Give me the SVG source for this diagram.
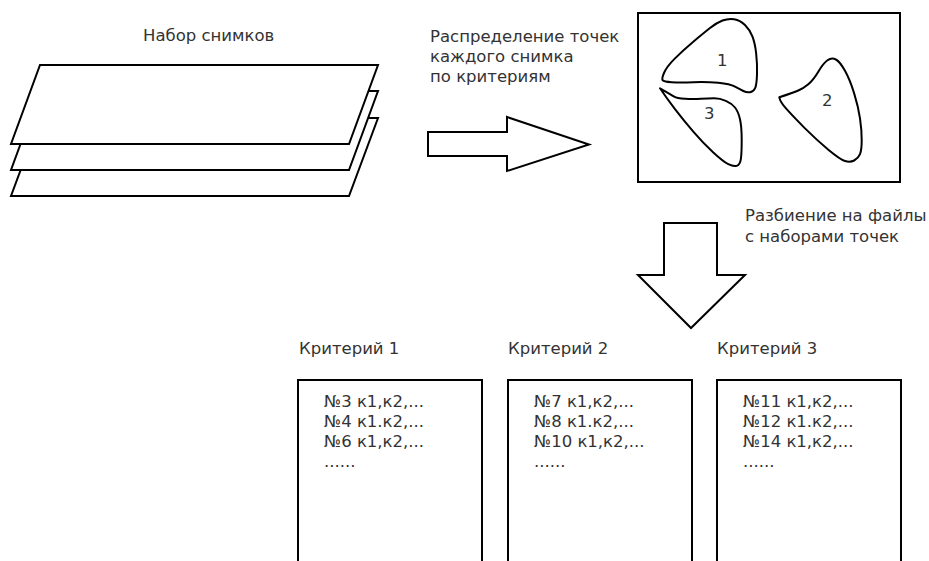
<svg xmlns="http://www.w3.org/2000/svg" width="929" height="561" viewBox="0 0 929 561">
  <style>
    .bg { fill: #ffffff; }
    .sheet { fill: #ffffff; stroke: #000000; stroke-width: 2; stroke-linejoin: miter; }
    .frame { fill: #ffffff; stroke: #000000; stroke-width: 2; }
    .blob { fill: none; stroke: #000000; stroke-width: 2; stroke-linejoin: round; }
    .block-arrow { fill: #ffffff; stroke: #000000; stroke-width: 2; stroke-linejoin: miter; }
    .lbl { font-family: "DejaVu Sans", "Noto Sans", sans-serif; font-size: 16.5px; fill: #333333; }
  </style>

  <rect class="bg" x="0" y="0" width="929" height="561"/>

  <!-- stack of images -->
  <g id="image-stack">
    <text class="lbl" x="143" y="41">Набор снимков</text>
    <polygon class="sheet" points="40,118 378,118 349,196 11,196"/>
    <polygon class="sheet" points="40,91 378,91 349,170 11,170"/>
    <polygon class="sheet" points="40,65 378,65 349,144 11,144"/>
  </g>

  <!-- clustered points -->
  <g id="clusters">
    <rect class="frame" x="638" y="13" width="262" height="169"/>
    <path class="blob" d="M664.2,72.5 Q666.7,66.7 675,58.35 Q683.3,50 693.3,41.65 Q703.3,33.3 710,28 Q716.7,22.7 722.5,20.5 Q728.3,18.3 734.15,19.15 Q740,20 745,25 Q750,30 752.5,36.65 Q755,43.3 756.15,53.3 Q757.3,63.3 757,74.15 Q756.7,85 755,88.35 Q753.3,91.7 750,92.2 Q746.7,92.7 743.35,91 Q740,89.3 735,86.65 Q730,84 718.35,82.85 Q706.7,81.7 693.35,82.2 Q680,82.7 671.65,82.2 Q663.3,81.7 662.5,80 Q661.7,78.3 664.2,72.5 Z"/>
    <path class="blob" d="M779.3,97.3 Q793.3,92.7 798.3,90.5 Q803.3,88.3 808.3,84.15 Q813.3,80 818.3,71.65 Q823.3,63.3 827.5,60.3 Q831.7,57.3 835.85,59.5 Q840,61.7 845,70.85 Q850,80 854.15,93.35 Q858.3,106.7 860,118.35 Q861.7,130 861.7,140 Q861.7,150 860,154.15 Q858.3,158.3 854.15,160.5 Q850,162.7 845,161 Q840,159.3 828.35,149.65 Q816.7,140 805,128.35 Q793.3,116.7 786.65,109.2 Q780,101.7 779.3,97.3 Z"/>
    <path class="blob" d="M660,88.3 Q671.7,95 674.2,96.65 Q676.7,98.3 685,98.8 Q693.3,99.3 700.8,98.8 Q708.3,98.3 714.15,98.3 Q720,98.3 725.85,100.8 Q731.7,103.3 735,107.5 Q738.3,111.7 740,119.2 Q741.7,126.7 741.7,140 Q741.7,153.3 740.85,159.15 Q740,165 736.65,165.85 Q733.3,166.7 728.3,164.2 Q723.3,161.7 713.3,152.5 Q703.3,143.3 693.3,131.65 Q683.3,120 675,109.15 Q666.7,98.3 660,88.3 Z"/>
    <text class="lbl" x="717" y="66">1</text>
    <text class="lbl" x="822" y="106">2</text>
    <text class="lbl" x="704" y="119">3</text>
  </g>

  <!-- step captions -->
  <g id="step-distribute">
    <text class="lbl" x="430" y="42">Распределение точек</text>
    <text class="lbl" x="430" y="62">каждого снимка</text>
    <text class="lbl" x="430" y="82">по критериям</text>
  </g>
  <g id="step-split">
    <text class="lbl" x="745" y="221">Разбиение на файлы</text>
    <text class="lbl" x="745" y="242">с наборами точек</text>
  </g>

  <!-- output files -->
  <g id="file-1">
    <text class="lbl" x="299" y="354">Критерий 1</text>
    <rect class="frame" x="298" y="380" width="184" height="200"/>
    <text class="lbl" x="324" y="407">№3 к1,к2,...</text>
    <text class="lbl" x="324" y="427">№4 к1.к2,...</text>
    <text class="lbl" x="324" y="447">№6 к1,к2,...</text>
    <text class="lbl" x="324" y="467">......</text>
  </g>
  <g id="file-2">
    <text class="lbl" x="508" y="354">Критерий 2</text>
    <rect class="frame" x="508" y="380" width="184" height="200"/>
    <text class="lbl" x="534" y="407">№7 к1,к2,...</text>
    <text class="lbl" x="534" y="427">№8 к1.к2,...</text>
    <text class="lbl" x="534" y="447">№10 к1,к2,...</text>
    <text class="lbl" x="534" y="467">......</text>
  </g>
  <g id="file-3">
    <text class="lbl" x="717" y="354">Критерий 3</text>
    <rect class="frame" x="717" y="380" width="184" height="200"/>
    <text class="lbl" x="743" y="407">№11 к1,к2,...</text>
    <text class="lbl" x="743" y="427">№12 к1.к2,...</text>
    <text class="lbl" x="743" y="447">№14 к1,к2,...</text>
    <text class="lbl" x="743" y="467">......</text>
  </g>

  <!-- block arrows between steps -->
  <g id="connectors">
    <polygon class="block-arrow" points="428,132 507,132 507,117 589,144.5 507,171 507,156 428,156"/>
    <polygon class="block-arrow" points="664,223 717,223 717,275 745,275 691,328 638,275 664,275"/>
  </g>
</svg>
